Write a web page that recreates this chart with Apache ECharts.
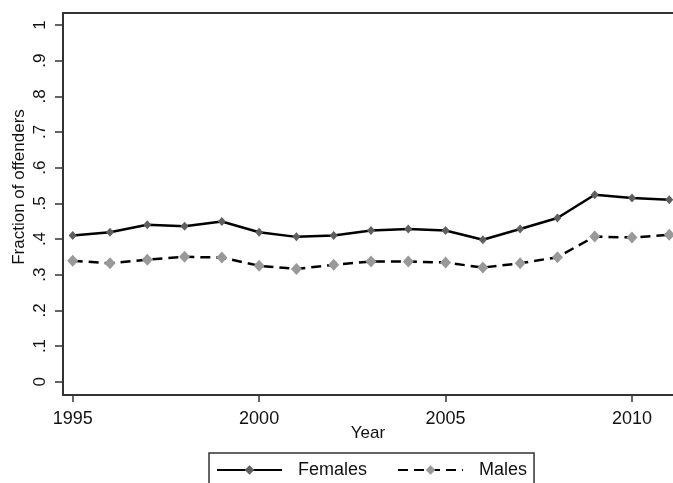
<!DOCTYPE html>
<html>
<head>
<meta charset="utf-8">
<script src="https://cdn.jsdelivr.net/npm/echarts@6/dist/echarts.min.js"></script>
<style>
html,body{margin:0;padding:0;background:#fff;overflow:hidden;}
#chart{width:673px;height:483px;}
</style>
</head>
<body>
<div id="chart"></div>
<script>
var years = [1995,1996,1997,1998,1999,2000,2001,2002,2003,2004,2005,2006,2007,2008,2009,2010,2011];
var females = [0.410,0.419,0.440,0.436,0.449,0.419,0.406,0.410,0.424,0.428,0.424,0.398,0.428,0.459,0.524,0.515,0.510];
var males = [0.339,0.332,0.342,0.350,0.348,0.325,0.316,0.328,0.337,0.337,0.334,0.320,0.332,0.349,0.407,0.404,0.412];
var xTicks = [1995,2000,2005,2010];
var yTicks = [0,0.1,0.2,0.3,0.4,0.5,0.6,0.7,0.8,0.9,1];
var yTickLabels = ['0','.1','.2','.3','.4','.5','.6','.7','.8','.9','1'];

function pairs(xs, ys){ return xs.map(function(x,i){ return [x, ys[i]]; }); }

var chart = echarts.init(document.getElementById('chart'), null, {renderer:'canvas'});
var txt = '#111';
var font = 'Liberation Sans, Arial, sans-serif';
var xMin = 1994.74, xMax = 2011.1;
chart.setOption({
  backgroundColor:'#fff',
  animation:false,
  grid:{left:63, right:0, top:13, bottom:88, show:false, containLabel:false},
  xAxis:[{
    type:'value', min:xMin, max:xMax, position:'bottom',
    name:'Year', nameLocation:'middle', nameGap:30, nameMoveOverlap:false,
    nameTextStyle:{color:txt, fontSize:17, fontFamily:font},
    axisLine:{show:true, onZero:false, lineStyle:{color:'#333', width:2}},
    axisTick:{show:true, length:7, lineStyle:{color:'#333', width:1.5}, customValues:xTicks},
    axisLabel:{color:txt, fontSize:18, fontFamily:font, margin:15, customValues:xTicks,
      formatter:function(v){return String(v);}},
    splitLine:{show:false}, splitArea:{show:false}
  },{
    type:'value', min:xMin, max:xMax, position:'top',
    axisLine:{show:true, onZero:false, lineStyle:{color:'#333', width:2}},
    axisTick:{show:false}, axisLabel:{show:false}, splitLine:{show:false}, splitArea:{show:false}
  }],
  yAxis:{
    type:'value', min:-0.0373, max:1.0336,
    name:'Fraction of offenders', nameLocation:'middle', nameGap:35, nameMoveOverlap:false,
    nameTextStyle:{color:txt, fontSize:17, fontFamily:font, padding:[0,0,0,34]},
    axisLine:{show:true, onZero:false, lineStyle:{color:'#333', width:2}},
    axisTick:{show:true, length:8, lineStyle:{color:'#333', width:1.5}, customValues:yTicks},
    axisLabel:{color:txt, fontSize:17, fontFamily:font, rotate:90, margin:14, customValues:yTicks,
      formatter:function(v){ var i = yTicks.indexOf(v); return i>=0 ? yTickLabels[i] : ''; }},
    splitLine:{show:false}, splitArea:{show:false}
  },
  legend:{
    left:209, top:453, orient:'horizontal',
    padding:[8,7,12,7], itemGap:30, itemWidth:65, itemHeight:12,
    borderColor:'#333', borderWidth:1.5, borderRadius:0,
    textStyle:{color:txt, fontSize:18, fontFamily:font, padding:[0,0,0,11]},
    data:['Females','Males']
  },
  series:[
    {name:'Females', type:'line', xAxisIndex:0, data:pairs(years,females),
     symbol:'diamond', symbolSize:[8,9], showSymbol:true, clip:false,
     itemStyle:{color:'#5f5f5f'}, lineStyle:{color:'#000', width:2.5, type:'solid'}, z:3},
    {name:'Males', type:'line', xAxisIndex:0, data:pairs(years,males),
     symbol:'diamond', symbolSize:[11,12], showSymbol:true, clip:false,
     itemStyle:{color:'#999'}, lineStyle:{color:'#000', width:2.5, type:[10,6]}, z:2}
  ]
});
</script>
</body>
</html>
